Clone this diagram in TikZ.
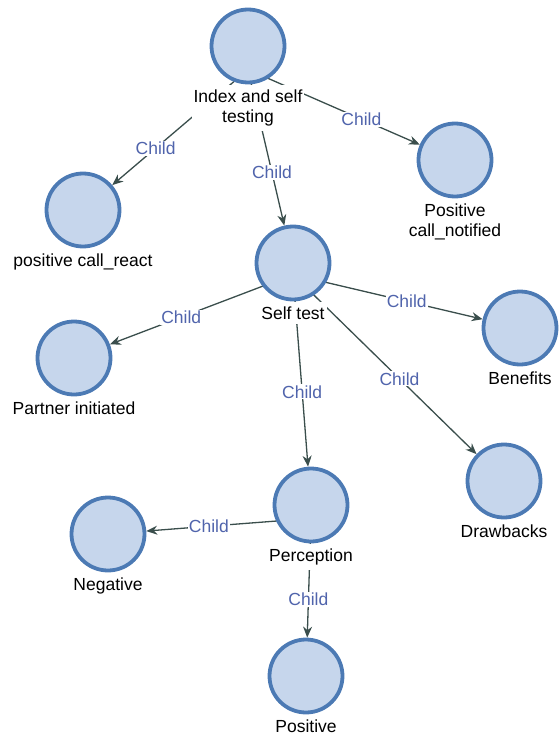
\documentclass[tikz,border=0pt]{standalone}
\usepackage{fontspec}
\setmainfont{Liberation Sans}
\usetikzlibrary{positioning,fit,backgrounds,arrows.meta}
\definecolor{vxfill}{RGB}{198,214,236}
\definecolor{vxline}{RGB}{76,122,180}
\definecolor{linkcol}{RGB}{58,78,76}
\definecolor{relcol}{RGB}{80,100,172}
\tikzset{
  vx/.style={circle, draw=vxline, fill=vxfill, line width=3.8pt, minimum size=73pt, inner sep=0pt},
  vlbl/.style={fill=white, inner xsep=2pt, inner ysep=5pt, align=center, font=\fontsize{17.5}{20.5}\selectfont},
  grp/.style={inner sep=0pt},
  link/.style={draw=linkcol, line width=1.3pt, -{Stealth[length=11pt,width=9pt]}},
  rel/.style={pos=0.63, fill=white, inner sep=1pt, text=relcol, font=\fontsize{17.5}{20.5}\selectfont}
}

\begin{document}
\begin{tikzpicture}[x=1pt, y=-1pt]
            \useasboundingbox (0,0) rectangle (559,738);
            % vertices
            \node[vx] (idx) at (248,46) {};
            \node[vx] (call) at (83,210) {};
            \node[vx] (notif) at (455,160) {};
            \node[vx] (stest) at (293,263) {};
            \node[vx] (partner) at (74,358) {};
            \node[vx] (benef) at (520,328) {};
            \node[vx] (drawb) at (504,481) {};
            \node[vx] (negat) at (108,534) {};
            \node[vx] (percep) at (311,505) {};
            \node[vx] (posit) at (306,676) {};
            % vertex labels
            \node[vlbl, below=0pt of idx] (idxL) {Index and self\\testing};
            \node[vlbl, below=0pt of call] (callL) {positive call\_react};
            \node[vlbl, below=0pt of notif] (notifL) {Positive\\call\_notified};
            \node[vlbl, below=0pt of stest] (stestL) {Self test};
            \node[vlbl, below=0pt of partner] (partnerL) {Partner initiated};
            \node[vlbl, below=0pt of benef] (benefL) {Benefits};
            \node[vlbl, below=0pt of drawb] (drawbL) {Drawbacks};
            \node[vlbl, below=0pt of negat] (negatL) {Negative};
            \node[vlbl, below=0pt of percep] (percepL) {Perception};
            \node[vlbl, below=0pt of posit] (positL) {Positive};
            % whole vertex = circle + label
            \node[grp, fit=(idx)(idxL)] (idxG) {};
            \node[grp, fit=(stest)(stestL)] (stestG) {};
            \node[grp, fit=(percep)(percepL)] (percepG) {};
            % links
            \begin{scope}[on background layer]
            \draw[link] (idxG.center) -- node[rel, pos=0.68] {Child} (call);
            \draw[link] (idxG.center) -- node[rel, pos=0.66] {Child} (notif);
            \draw[link] (idxG.center) -- node[rel, pos=0.66] {Child} (stest);
            \draw[link] (stestG.center) -- node[rel, pos=0.61] {Child} (partner);
            \draw[link] (stestG.center) -- node[rel, pos=0.6] {Child} (benef);
            \draw[link] (stestG.center) -- node[rel, pos=0.58] {Child} (drawb);
            \draw[link] (stestG.center) -- node[rel, pos=0.61] {Child} (percep);
            \draw[link] (percepG.center) -- node[rel, pos=0.62] {Child} (negat);
            \draw[link] (percepG.center) -- node[rel, pos=0.68] {Child} (posit);
            \end{scope}
        \end{tikzpicture}
\end{document}
